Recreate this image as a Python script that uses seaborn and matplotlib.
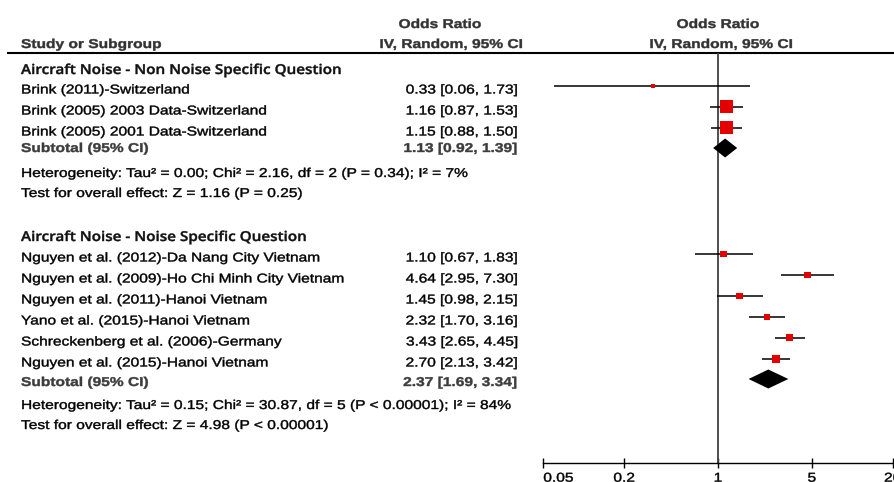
import matplotlib
matplotlib.use("Agg")
import matplotlib.pyplot as plt
from matplotlib.patheffects import AbstractPathEffect
from matplotlib.transforms import Affine2D
import seaborn as sns
import pandas as pd

# ---------------- data ----------------
group_names = ["Aircraft Noise - Non Noise Specific Question",
               "Aircraft Noise - Noise Specific Question"]

g1_studies = ["Brink (2011)-Switzerland",
              "Brink (2005) 2003 Data-Switzerland",
              "Brink (2005) 2001 Data-Switzerland"]
g1_or = [0.33, 1.16, 1.15]
g1_lo = [0.06, 0.87, 0.88]
g1_hi = [1.73, 1.53, 1.50]
g1_sub = [1.13, 0.92, 1.39]

g2_studies = ["Nguyen et al. (2012)-Da Nang City Vietnam",
              "Nguyen et al. (2009)-Ho Chi Minh City Vietnam",
              "Nguyen et al. (2011)-Hanoi Vietnam",
              "Yano et al. (2015)-Hanoi Vietnam",
              "Schreckenberg et al. (2006)-Germany",
              "Nguyen et al. (2015)-Hanoi Vietnam"]
g2_or = [1.10, 4.64, 1.45, 2.32, 3.43, 2.70]
g2_lo = [0.67, 2.95, 0.98, 1.70, 2.65, 2.13]
g2_hi = [1.83, 7.30, 2.15, 3.16, 4.45, 3.42]
g2_sub = [2.37, 1.69, 3.34]

het_texts = ["Heterogeneity: Tau\u00b2 = 0.00; Chi\u00b2 = 2.16, df = 2 (P = 0.34); I\u00b2 = 7%",
             "Heterogeneity: Tau\u00b2 = 0.15; Chi\u00b2 = 30.87, df = 5 (P < 0.00001); I\u00b2 = 84%"]
effect_texts = ["Test for overall effect: Z = 1.16 (P = 0.25)",
                "Test for overall effect: Z = 4.98 (P < 0.00001)"]

x_ticks = [0.05, 0.2, 1, 5, 20]
x_tick_labels = ["0.05", "0.2", "1", "5", "20"]

# ---------------- layout (pixels from top) ----------------
W, H = 894, 482
AX_L, AX_R = 543.3, 892.7
AX_TOP, AX_BOT = 53.3, 463.3
g1_rows = [86, 107, 128]
g1_sub_row = 148
g2_rows = [254, 275, 296, 317, 338, 359]
g2_sub_row = 379
g1_sizes = [3.7, 13, 13]
g2_sizes = [6.4, 6.6, 6.4, 6.6, 7.0, 7.3]
DIAMOND_H = 19

SX = 1.215
STROKE = 0.3


class HStretch(AbstractPathEffect):
    """Horizontally stretch text glyphs around a pivot (0 left, .5 center, 1 right)."""

    def __init__(self, sx=SX, pivot=0.0, stroke=STROKE):
        super().__init__()
        self.sx = sx
        self.pivot = pivot
        self.stroke = stroke

    def draw_path(self, renderer, gc, tpath, affine, rgbFace=None):
        if self.pivot:
            ext = tpath.get_extents()
            px = ext.x0 + self.pivot * (ext.x1 - ext.x0)
        else:
            px = 0.0
        t = Affine2D().translate(-px, 0).scale(self.sx, 1).translate(px, 0) + affine
        gc0 = renderer.new_gc()
        gc0.copy_properties(gc)
        if rgbFace is not None and self.stroke > 0:
            gc0.set_foreground(rgbFace)
            gc0.set_linewidth(self.stroke)
            gc0.set_joinstyle("round")
        renderer.draw_path(gc0, tpath, t, rgbFace)
        gc0.restore()


sns.set_theme(style="white")
plt.rcParams["font.family"] = ["Liberation Sans", "DejaVu Sans"]

fig = plt.figure(figsize=(W / 100, H / 100), dpi=100)
tax = fig.add_axes([0, 0, 1, 1])
tax.set_xlim(0, W)
tax.set_ylim(H, 0)
tax.axis("off")

ax = fig.add_axes([AX_L / W, (H - AX_BOT) / H, (AX_R - AX_L) / W, (AX_BOT - AX_TOP) / H])
ax.patch.set_alpha(0)

FS = 9.2
PIV = {"left": 0.0, "center": 0.5, "right": 1.0}


def txt(x, y, s, ha="left", bold=False, color="black", fs=FS, family=None, sx=SX, weight=None):
    kw = {}
    if family:
        kw["family"] = family
    tax.text(x, y, s, ha=ha, va="baseline", fontsize=fs,
             fontweight=(weight or ("bold" if bold else "normal")), color=color,
             path_effects=[HStretch(sx, PIV[ha])], **kw)


HEAD = "#333333"
SUBC = "#3c3c3c"
# headers
txt(21, 48, "Study or Subgroup", bold=True, color=HEAD)
txt(440, 28, "Odds Ratio", ha="center", bold=True, color=HEAD)
txt(451, 48, "IV, Random, 95% CI", ha="center", bold=True, color=HEAD)
txt(718, 28, "Odds Ratio", ha="center", bold=True, color=HEAD)
txt(721, 48, "IV, Random, 95% CI", ha="center", bold=True, color=HEAD)
tax.plot([7, W], [53.3, 53.3], color="black", lw=1.5, solid_capstyle="butt")

VAL_X = 517


def fmt(o, l, h):
    return f"{o:.2f} [{l:.2f}, {h:.2f}]"


def group_block(name, name_y, studies, ors, los, his, rows, sub, sub_row, het, eff, het_y, eff_y, sub_base):
    txt(21, name_y, name, family=["Open Sans", "DejaVu Sans"], weight="semibold", fs=9.8, sx=1.12,
        color="#111111")
    for s, o, l, h, r in zip(studies, ors, los, his, rows):
        txt(21, r + 7.5, s)
        txt(VAL_X, r + 7.5, fmt(o, l, h), ha="right")
    txt(21, sub_base, "Subtotal (95% CI)", bold=True, color=SUBC)
    txt(VAL_X, sub_base, fmt(*sub), ha="right", bold=True, color=SUBC)
    txt(21, het_y, het)
    txt(21, eff_y, eff)


group_block(group_names[0], 74, g1_studies, g1_or, g1_lo, g1_hi, g1_rows, g1_sub, g1_sub_row,
            het_texts[0], effect_texts[0], 177, 197, 152)
group_block(group_names[1], 241, g2_studies, g2_or, g2_lo, g2_hi, g2_rows, g2_sub, g2_sub_row,
            het_texts[1], effect_texts[1], 409, 429, 386)

# ---------------- forest plot ----------------
df = pd.DataFrame({
    "or": g1_or + g2_or,
    "lo": g1_lo + g2_lo,
    "hi": g1_hi + g2_hi,
    "row": g1_rows + g2_rows,
    "side": g1_sizes + g2_sizes,
})
df["s"] = (df["side"] * 0.72) ** 2

ax.axvline(1, color="#404040", lw=1.3, zorder=1)
ax.hlines(df["row"], df["lo"], df["hi"], color="black", lw=1.1, zorder=2)
sns.scatterplot(data=df, x="or", y="row", size="s", sizes=(df["s"].min(), df["s"].max()),
                marker="s", color="#e50000", linewidth=0, legend=False, ax=ax, zorder=3)

for sub, row in [(g1_sub, g1_sub_row), (g2_sub, g2_sub_row)]:
    o, l, h = sub
    ax.fill([l, o, h, o], [row, row - DIAMOND_H / 2, row, row + DIAMOND_H / 2],
            color="black", lw=0, zorder=3)

ax.set_xscale("log")
ax.set_xlim(x_ticks[0], x_ticks[-1])
ax.set_ylim(AX_BOT, AX_TOP)
ax.minorticks_off()
ax.set_xticks(x_ticks)
ax.set_xticklabels(x_tick_labels)
ax.set_yticks([])
ax.set_xlabel("")
ax.set_ylabel("")
for sp in ["top", "left", "right"]:
    ax.spines[sp].set_visible(False)
ax.spines["bottom"].set_color("black")
ax.spines["bottom"].set_linewidth(1.0)
ax.tick_params(axis="x", direction="inout", length=7.5, width=1.0, color="black",
               labelsize=FS, pad=3.0, bottom=True, labelcolor="black")
labels = ax.get_xticklabels()
for i, lab in enumerate(labels):
    if i == 0:
        lab.set_horizontalalignment("left")
        lab.set_path_effects([HStretch(SX, 0.0)])
    else:
        lab.set_path_effects([HStretch(SX, 0.5)])

fig.savefig("out.png", dpi=100)
